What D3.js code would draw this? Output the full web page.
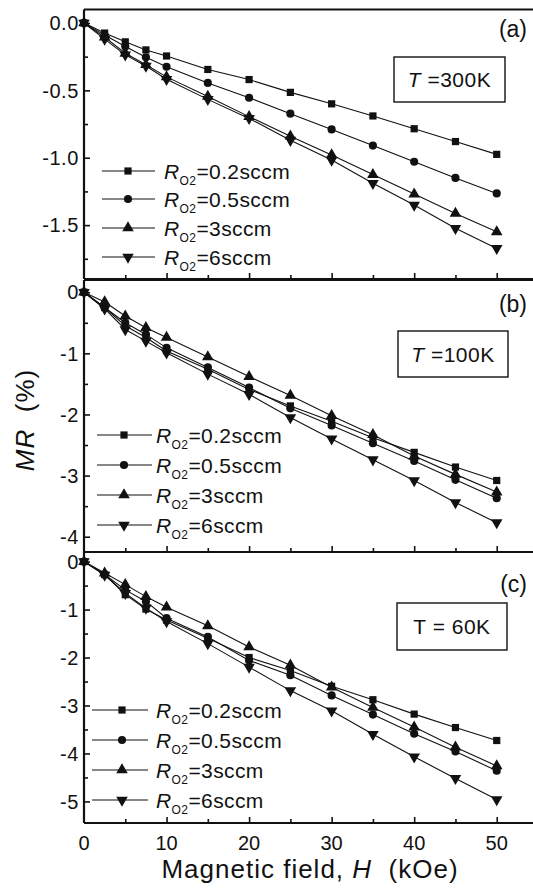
<!DOCTYPE html>
<html>
<head>
<meta charset="utf-8">
<script src="https://cdn.jsdelivr.net/npm/d3@7/dist/d3.min.js"></script>
<style>
  body { margin: 0; background: #fff; }
  text { font-family: Arial, "Liberation Sans", sans-serif; fill: #111; }
</style>
</head>
<body>
<svg id="chart" width="533" height="890"></svg>
<script>
// Field values (kOe), shared by every curve
const fields = [0, 2.5, 5, 7.5, 10, 15, 20, 25, 30, 35, 40, 45, 50];
const flowLabels = ["0.2sccm", "0.5sccm", "3sccm", "6sccm"];
const xTicks = [0, 10, 20, 30, 40, 50];

// (a) T = 300K
const mr300_02 = [0, -0.075, -0.14, -0.2, -0.245, -0.345, -0.42, -0.515, -0.6, -0.69, -0.785, -0.88, -0.975];
const mr300_05 = [0, -0.09, -0.175, -0.255, -0.325, -0.445, -0.555, -0.673, -0.79, -0.91, -1.03, -1.15, -1.265];
const mr300_3  = [0, -0.105, -0.225, -0.31, -0.4, -0.545, -0.695, -0.84, -0.98, -1.125, -1.27, -1.413, -1.55];
const mr300_6  = [0, -0.12, -0.237, -0.32, -0.418, -0.567, -0.708, -0.87, -1.017, -1.19, -1.351, -1.524, -1.673];

// (b) T = 100K
const mr100_02 = [0, -0.25, -0.55, -0.74, -0.96, -1.26, -1.59, -1.86, -2.11, -2.38, -2.62, -2.86, -3.08];
const mr100_05 = [0, -0.25, -0.5, -0.69, -0.91, -1.23, -1.56, -1.9, -2.18, -2.47, -2.76, -3.07, -3.37];
const mr100_3  = [0, -0.16, -0.39, -0.58, -0.74, -1.06, -1.38, -1.69, -2.02, -2.33, -2.68, -2.98, -3.27];
const mr100_6  = [0, -0.27, -0.61, -0.8, -0.99, -1.34, -1.67, -2.05, -2.4, -2.74, -3.08, -3.44, -3.77];

// (c) T = 60K
const mr60_02 = [0, -0.27, -0.69, -0.99, -1.22, -1.6, -2.0, -2.27, -2.6, -2.88, -3.18, -3.46, -3.73];
const mr60_05 = [0, -0.27, -0.59, -0.83, -1.18, -1.57, -2.06, -2.37, -2.79, -3.19, -3.59, -3.96, -4.36];
const mr60_3  = [0, -0.24, -0.48, -0.73, -0.95, -1.34, -1.78, -2.16, -2.62, -3.04, -3.45, -3.87, -4.26];
const mr60_6  = [0, -0.28, -0.66, -0.97, -1.25, -1.71, -2.2, -2.69, -3.11, -3.6, -4.07, -4.52, -4.96];

const svg = d3.select("#chart");

const x = d3.scaleLinear().domain([0, 55]).range([84, 538]);

const markers = [
  { type: d3.symbolSquare, size: 52, rot: 0 },
  { type: d3.symbolCircle, size: 52, rot: 0 },
  { type: d3.symbolTriangle, size: 58, rot: 0 },
  { type: d3.symbolTriangle, size: 58, rot: 180 }
];

const panels = [
  {
    series: [mr300_02, mr300_05, mr300_3, mr300_6],
    domain: [-1.9, 0.1], range: [279, 9.5],
    major: 0.5, minor: 0.25, fmt: d3.format(".1f"),
    letter: "(a)", letterY: 37,
    tItalic: true, tText: " =300K", box: [394, 57, 111, 45],
    legX: [102, 155, 128, 164], legY: [171, 199, 228, 257]
  },
  {
    series: [mr100_02, mr100_05, mr100_3, mr100_6],
    domain: [-4.25, 0.2], range: [552, 280],
    major: 1, minor: 0.5, fmt: d3.format("d"),
    letter: "(b)", letterY: 312,
    tItalic: true, tText: " =100K", box: [398, 331, 110, 46],
    legX: [97, 152, 124, 156], legY: [435, 465, 495, 525]
  },
  {
    series: [mr60_02, mr60_05, mr60_3, mr60_6],
    domain: [-5.45, 0.2], range: [823, 552],
    major: 1, minor: 0.5, fmt: d3.format("d"),
    letter: "(c)", letterY: 592,
    tItalic: false, tText: " = 60K", box: [397, 603, 110, 47],
    legX: [92, 148, 122, 156], legY: [710, 740, 770, 800]
  }
];

panels.forEach((p, pi) => {
  const y = d3.scaleLinear().domain(p.domain).range(p.range);
  const g = svg.append("g");
  const yTop = p.range[1], yBot = p.range[0];

  // top frame line
  g.append("line")
    .attr("x1", x(0)).attr("x2", 533)
    .attr("y1", yTop).attr("y2", yTop)
    .attr("stroke", "#111").attr("stroke-width", 2);

  // left axis, ticks inward
  const majors = d3.range(0, p.domain[0] - 1e-6, -p.major);
  const minors = d3.range(0, p.domain[0] - 1e-6, -p.minor).filter(v => Math.abs(v / p.major - Math.round(v / p.major)) > 1e-6);
  const yAxis = d3.axisRight(y).tickValues(majors).tickSize(6).tickFormat("");
  const yAxisMinor = d3.axisRight(y).tickValues(minors).tickSize(4).tickFormat("");
  [yAxis, yAxisMinor].forEach(ax => {
    g.append("g").attr("transform", `translate(${x(0)},0)`).call(ax)
      .call(s => s.select(".domain").remove())
      .call(s => s.selectAll("line").attr("stroke", "#111").attr("stroke-width", 1.6));
  });
  g.append("line")
    .attr("x1", x(0)).attr("x2", x(0))
    .attr("y1", yTop).attr("y2", yBot)
    .attr("stroke", "#111").attr("stroke-width", 2.2);

  g.selectAll(".ylab").data(majors).join("text")
    .attr("x", x(0) - 5).attr("y", d => y(d))
    .attr("dy", "0.36em")
    .attr("text-anchor", "end")
    .style("font-size", "20px")
    .style("letter-spacing", "0.6px")
    .text(d => p.fmt(d).replace("−", "-"));

  // bottom axis, ticks inward
  const xAxis = d3.axisTop(x).tickValues([10, 20, 30, 40, 50]).tickSize(6).tickFormat("");
  const xAxisMinor = d3.axisTop(x).tickValues([5, 15, 25, 35, 45]).tickSize(4).tickFormat("");
  [xAxis, xAxisMinor].forEach(ax => {
    g.append("g").attr("transform", `translate(0,${yBot})`).call(ax)
      .call(s => s.select(".domain").remove())
      .call(s => s.selectAll("line").attr("stroke", "#111").attr("stroke-width", 1.6));
  });
  g.append("line")
    .attr("x1", x(0)).attr("x2", 533)
    .attr("y1", yBot).attr("y2", yBot)
    .attr("stroke", "#111").attr("stroke-width", 2);

  // curves
  const line = d3.line().x((d, i) => x(fields[i])).y(d => y(d));
  p.series.forEach(vals => {
    g.append("path").datum(vals)
      .attr("d", line)
      .attr("fill", "none").attr("stroke", "#111").attr("stroke-width", 1.1);
  });
  p.series.forEach((vals, si) => {
    const m = markers[si];
    const sym = d3.symbol().type(m.type).size(m.size);
    g.selectAll(null).data(vals).join("path")
      .attr("d", sym)
      .attr("transform", (d, i) => `translate(${x(fields[i])},${y(d)}) rotate(${m.rot})`)
      .attr("fill", "#111");
  });

  // legend
  flowLabels.forEach((lab, si) => {
    const ly = p.legY[si];
    const m = markers[si];
    g.append("line")
      .attr("x1", p.legX[0]).attr("x2", p.legX[1])
      .attr("y1", ly).attr("y2", ly)
      .attr("stroke", "#111").attr("stroke-width", 1.1);
    g.append("path")
      .attr("d", d3.symbol().type(m.type).size(m.size))
      .attr("transform", `translate(${p.legX[2]},${ly}) rotate(${m.rot})`)
      .attr("fill", "#111");
    const t = g.append("text")
      .attr("x", p.legX[3]).attr("y", ly + 8)
      .style("font-size", "21px")
      .style("letter-spacing", "0.4px");
    t.append("tspan").style("font-style", "italic").text("R");
    t.append("tspan").attr("dy", 6).style("font-size", "12px").text("O2");
    t.append("tspan").attr("dy", -6).text("=" + lab);
  });

  // panel letter
  g.append("text")
    .attr("x", 527).attr("y", p.letterY)
    .attr("text-anchor", "end")
    .style("font-size", "23px")
    .text(p.letter);

  // temperature box
  g.append("rect")
    .attr("x", p.box[0]).attr("y", p.box[1])
    .attr("width", p.box[2]).attr("height", p.box[3])
    .attr("fill", "#fff").attr("stroke", "#111").attr("stroke-width", 1.4);
  const tt = g.append("text")
    .attr("x", p.box[0] + p.box[2] / 2).attr("y", p.box[1] + p.box[3] / 2 + 7.5)
    .attr("text-anchor", "middle")
    .style("font-size", "21px")
    .style("letter-spacing", "0.5px");
  tt.append("tspan").style("font-style", p.tItalic ? "italic" : "normal").text("T");
  tt.append("tspan").text(p.tText);

  // x tick labels on the bottom panel only
  if (pi === panels.length - 1) {
    g.selectAll(".xlab").data(xTicks).join("text")
      .attr("x", d => x(d)).attr("y", yBot + 27)
      .attr("text-anchor", "middle")
      .style("font-size", "20px")
      .text(d => d);
  }
});

// axis titles
const yt = svg.append("text")
  .attr("transform", "translate(34,420) rotate(-90)")
  .attr("text-anchor", "middle")
  .style("font-size", "26px")
  .style("letter-spacing", "1px");
yt.append("tspan").style("font-style", "italic").text("MR");
yt.append("tspan").text("\u00a0 (%)");

const xt = svg.append("text")
  .attr("x", 310).attr("y", 878)
  .attr("text-anchor", "middle")
  .style("font-size", "26px")
  .style("letter-spacing", "1px");
xt.append("tspan").text("Magnetic field, ");
xt.append("tspan").style("font-style", "italic").text("H");
xt.append("tspan").text("\u00a0 (kOe)");
</script>
</body>
</html>
